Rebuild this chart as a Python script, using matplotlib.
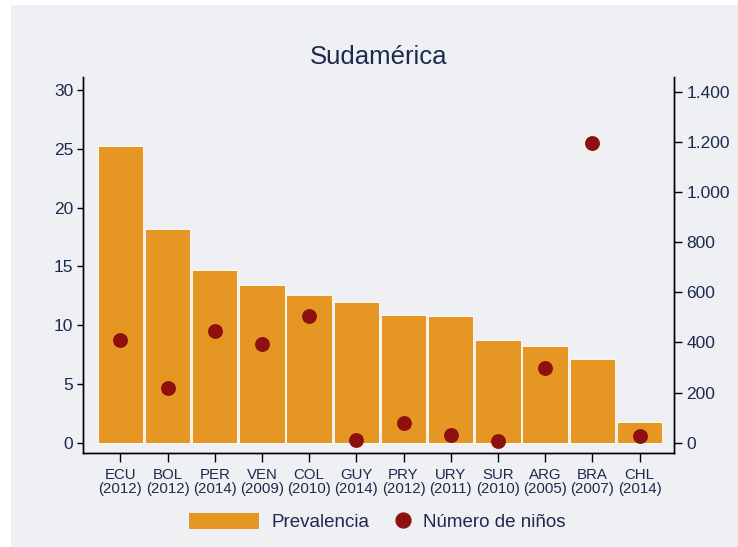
import matplotlib
matplotlib.use('Agg')
import matplotlib.pyplot as plt
from matplotlib.patches import Rectangle
from matplotlib.lines import Line2D

plt.rcParams['font.family'] = ['Liberation Sans', 'DejaVu Sans']

# datos
paises = ['ECU', 'BOL', 'PER', 'VEN', 'COL', 'GUY', 'PRY', 'URY', 'SUR', 'ARG', 'BRA', 'CHL']
anios = ['2012', '2012', '2014', '2009', '2010', '2014', '2012', '2011', '2010', '2005', '2007', '2014']
prevalencia = [25.2, 18.2, 14.7, 13.4, 12.6, 12.0, 10.9, 10.8, 8.7, 8.2, 7.1, 1.8]
ninos = [410, 220, 445, 395, 505, 12, 80, 30, 6, 300, 1195, 25]

naranja = '#E69622'
rojo = '#8E1111'
texto = '#1C2A4E'
fondo = '#EEF0F3'

fig = plt.figure(figsize=(7.38, 5.47), dpi=100, facecolor='white')
fig.add_artist(Rectangle((11 / 738, 0), 1 - 11 / 738, 1 - 5 / 547,
                         transform=fig.transFigure, facecolor=fondo,
                         edgecolor='none', zorder=-10))

ax = fig.add_axes([83.3 / 738, 1 - 453 / 547, (674.3 - 83.3) / 738, (453 - 76.7) / 547])
ax.set_facecolor(fondo)
x = list(range(len(paises)))
ax.bar(x, prevalencia, width=0.96, color=naranja, edgecolor='white', linewidth=0.6)
ax.set_xlim(-0.784, 11.737)
ax.set_ylim(-0.876, 31.13)
ax.set_yticks([0, 5, 10, 15, 20, 25, 30])
ax.set_xticks(x)
ax.set_xticklabels([f'{p}\n({a})' for p, a in zip(paises, anios)], fontsize=10.8,
                   color=texto, linespacing=1.05)
ax.tick_params(axis='x', length=6.5, width=1.0, pad=4, color='black')
ax.tick_params(axis='y', length=4.3, width=1.0, pad=3, labelsize=12.5,
               labelcolor=texto, color='black')

ax2 = ax.twinx()
ax2.scatter(x, ninos, s=115, color=rojo, zorder=3, linewidths=0)
ax2.set_ylim(-41, 1460)
ax2.set_yticks([0, 200, 400, 600, 800, 1000, 1200, 1400])
ax2.set_yticklabels(['0', '200', '400', '600', '800', '1.000', '1.200', '1.400'])
ax2.tick_params(axis='y', length=5.8, width=1.0, pad=2.9, labelsize=12.5,
                labelcolor=texto, color='black')

for a in (ax, ax2):
    a.spines['top'].set_visible(False)
    for s in ('left', 'right', 'bottom'):
        a.spines[s].set_linewidth(1.0)
        a.spines[s].set_color('black')

ax.set_title('Sudamérica', fontsize=18.5, color=texto, pad=9)

# leyenda
yleg = 1 - 522 / 547
leg1 = fig.legend([Rectangle((0, 0), 1, 1, facecolor=naranja, edgecolor='none')],
                  ['Prevalencia'], loc='center left',
                  bbox_to_anchor=(189.3 / 738, yleg), frameon=False, fontsize=13.5,
                  handlelength=3.73, handleheight=0.96, handletextpad=0.66,
                  borderpad=0, borderaxespad=0, labelcolor=texto)
leg2 = fig.legend([Line2D([], [], ls='none', marker='o', markersize=10.7,
                          markerfacecolor=rojo, markeredgecolor=rojo)],
                  ['Número de niños'], loc='center left',
                  bbox_to_anchor=(393.9 / 738, yleg), frameon=False, fontsize=13.5,
                  handlelength=1.0, handletextpad=0.53,
                  borderpad=0, borderaxespad=0, labelcolor=texto)

plt.savefig('out.png', dpi=100, facecolor=fig.get_facecolor())
plt.close()
